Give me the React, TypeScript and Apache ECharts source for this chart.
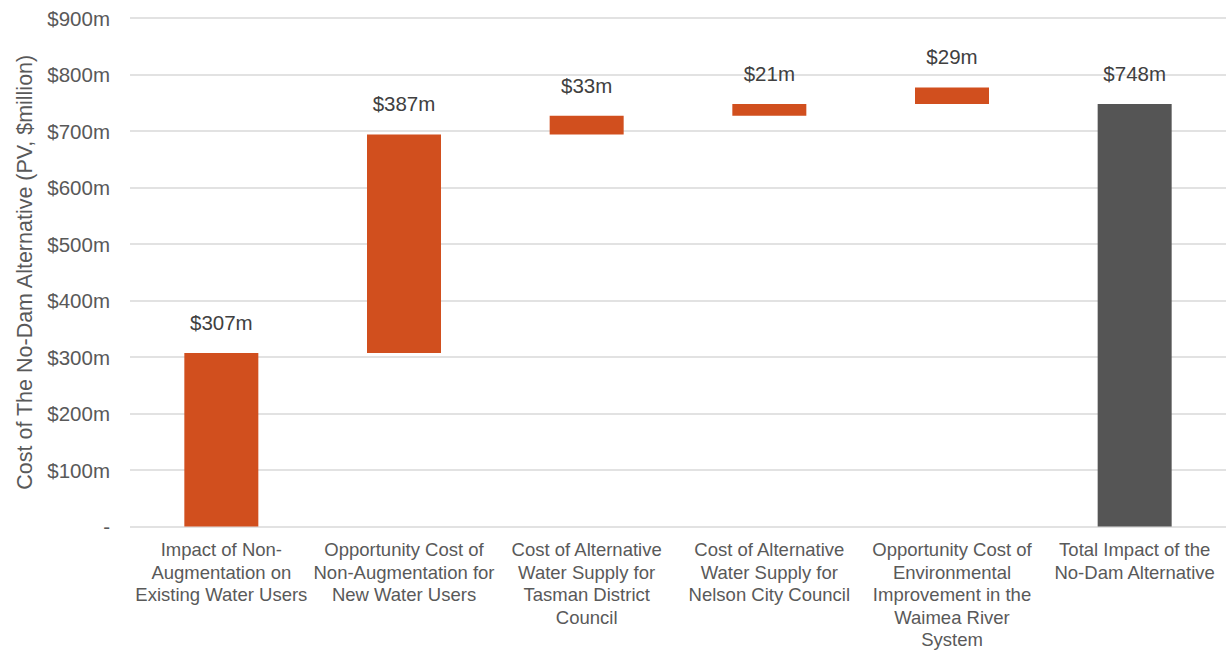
import React, { useEffect, useRef } from "react";
import * as echarts from "echarts";

const categories = [
  "Impact of Non-\nAugmentation on\nExisting Water Users",
  "Opportunity Cost of\nNon-Augmentation for\nNew Water Users",
  "Cost of Alternative\nWater Supply for\nTasman District\nCouncil",
  "Cost of Alternative\nWater Supply for\nNelson City Council",
  "Opportunity Cost of\nEnvironmental\nImprovement in the\nWaimea River\nSystem",
  "Total Impact of the\nNo-Dam Alternative",
];
const baseValues = [0, 307, 694, 727, 748, 0];
const barValues = [307, 387, 33, 21, 29, 748];
const isTotal = [false, false, false, false, false, true];
const yTicks = [0, 100, 200, 300, 400, 500, 600, 700, 800, 900];

const ORANGE = "#D14F1E";
const GREY = "#555555";
const FONT = "'Liberation Sans', Arial, sans-serif";

export default function App() {
  const ref = useRef<HTMLDivElement>(null);
  useEffect(() => {
    if (!ref.current) return;
    const chart = echarts.init(ref.current, null, { renderer: "svg" });
    chart.setOption({
      animation: false,
      textStyle: { fontFamily: FONT },
      grid: { left: 130, top: 18, width: 1105, height: 513, containLabel: false },
      xAxis: {
        type: "category",
        data: categories,
        axisLine: { show: false },
        axisTick: { show: false },
        axisLabel: {
          interval: 0,
          color: "#595959",
          fontSize: 18.5,
          lineHeight: 22.5,
          margin: 12,
          fontFamily: FONT,
        },
      },
      yAxis: {
        type: "value",
        min: yTicks[0],
        max: yTicks[yTicks.length - 1],
        interval: 100,
        name: "Cost of The No-Dam Alternative (PV, $million)",
        nameLocation: "middle",
        nameGap: 92,
        nameTextStyle: { color: "#595959", fontSize: 21.5, fontFamily: FONT },
        axisLine: { show: false },
        axisTick: { show: false },
        axisLabel: {
          color: "#595959",
          fontSize: 20.5,
          margin: 20,
          fontFamily: FONT,
          formatter: (v: number) => (v === 0 ? "-" : "$" + v + "m"),
        },
        splitLine: { lineStyle: { color: "#D9D9D9", width: 1.5 } },
      },
      series: [
        {
          type: "bar",
          stack: "w",
          data: baseValues,
          itemStyle: { color: "transparent" },
          barWidth: 74,
          silent: true,
        },
        {
          type: "bar",
          stack: "w",
          barWidth: 74,
          data: barValues.map((v, i) => ({
            value: v,
            itemStyle: { color: isTotal[i] ? GREY : ORANGE },
          })),
          label: {
            show: true,
            position: "top",
            distance: 20,
            color: "#404040",
            fontSize: 20.5,
            fontFamily: FONT,
            formatter: (p: any) => "$" + p.value + "m",
          },
        },
      ],
    });
    return () => chart.dispose();
  }, []);
  return (
    <div
      ref={ref}
      style={{ position: "fixed", left: 0, top: 0, width: 1226, height: 651, background: "#fff" }}
    />
  );
}
